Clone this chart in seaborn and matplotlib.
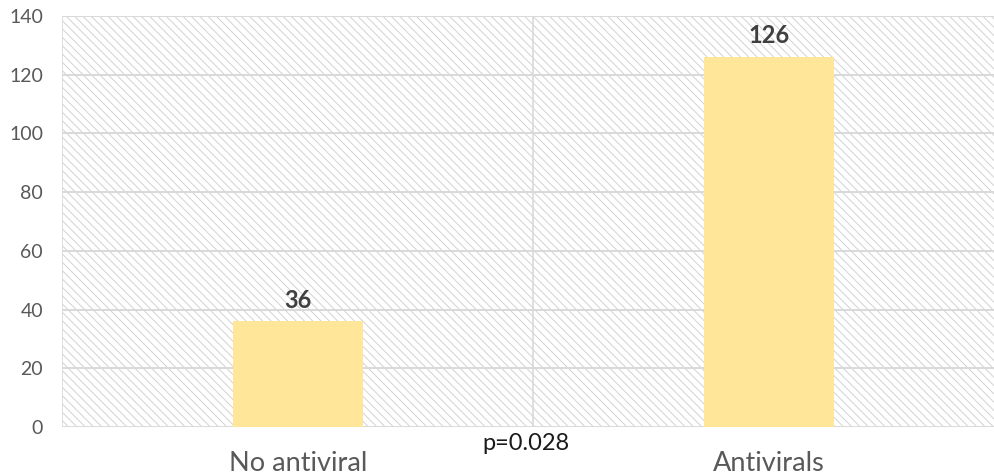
import matplotlib
matplotlib.use("Agg")
import matplotlib.pyplot as plt
from matplotlib.patches import Rectangle
import seaborn as sns
import pandas as pd

# Data
categories = ["No antiviral", "Antivirals"]
values = [36, 126]
y_ticks = [0, 20, 40, 60, 80, 100, 120, 140]
p_label = "p=0.028"

sns.set_theme(style="white")
plt.rcParams["font.family"] = ["Lato", "DejaVu Sans"]
plt.rcParams["hatch.linewidth"] = 0.7

df = pd.DataFrame({"group": categories, "count": values})

W, H = 994, 475
fig = plt.figure(figsize=(W / 100, H / 100), dpi=100)
left, top, bottom = 62.5, 16, 427
width_px = 942
ax = fig.add_axes([left / W, (H - bottom) / H, width_px / W, (bottom - top) / H])

# hatched background
bg = Rectangle((0, 0), 1, 1, transform=ax.transAxes, facecolor="white",
               edgecolor="#d2d2d2", hatch="\\\\\\\\", linewidth=0, zorder=0)
ax.add_patch(bg)

sns.barplot(data=df, x="group", y="count", color="#FFE699", width=0.275,
            saturation=1, linewidth=0, ax=ax, zorder=3)

ax.set_xlim(-0.5, 1.5)
ax.set_ylim(0, 140)
ax.set_yticks(y_ticks)
ax.set_xlabel("")
ax.set_ylabel("")

# gridlines
for y in y_ticks:
    ax.axhline(y, color="#d9d9d9", lw=1.4, zorder=1)
ax.axvline(0.5, color="#d9d9d9", lw=1.2, zorder=1)
ax.axvline(-0.5, color="#d9d9d9", lw=1.2, zorder=1)

for s in ax.spines.values():
    s.set_visible(False)

ax.tick_params(axis="y", length=0, pad=14, labelsize=14, labelcolor="#595959")
ax.tick_params(axis="x", length=0, pad=17, labelsize=19.5, labelcolor="#595959")

for i, v in enumerate(values):
    ax.text(i, v + 3.3, str(v), ha="center", va="bottom", fontsize=17,
            fontweight="bold", color="#404040", zorder=4)

fig.text(526 / W, 1 - 444 / H, p_label, ha="center", va="center",
         fontsize=17, color="#1a1a1a")

fig.savefig("out.png", dpi=100)
